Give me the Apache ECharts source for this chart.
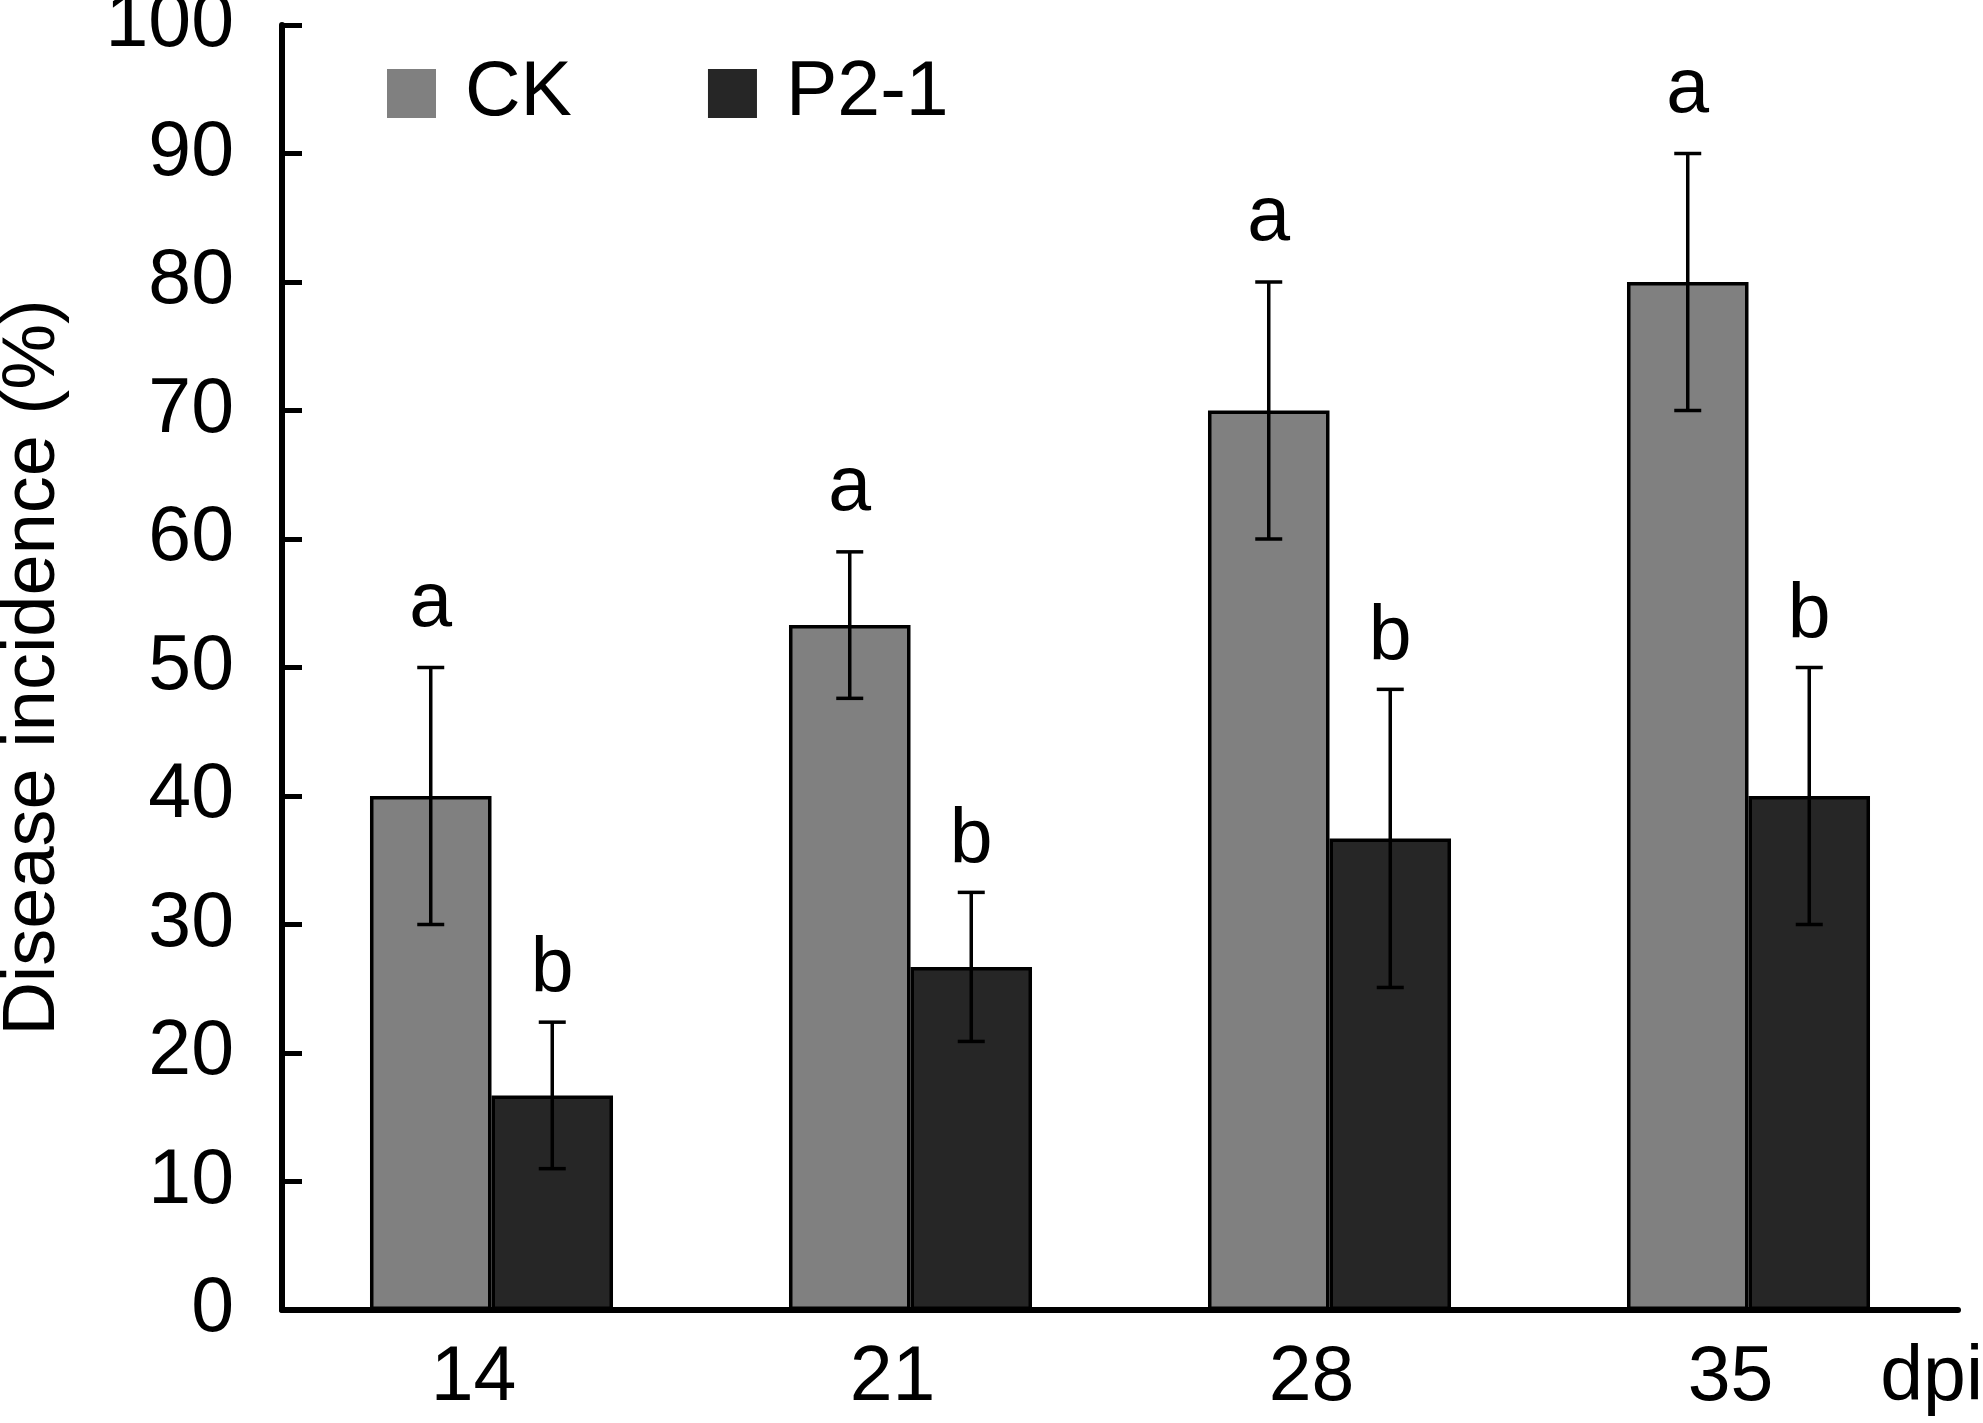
<!DOCTYPE html>
<html>
<head>
<meta charset="utf-8">
<title>Disease incidence</title>
<script src="https://cdn.jsdelivr.net/npm/echarts@6/dist/echarts.min.js"></script>
<style>
  html, body { margin: 0; padding: 0; background: #fff; }
  #chart { width: 1983px; height: 1423px; }
</style>
</head>
<body>
<div id="chart"></div>
<script>
// days post inoculation
var categories = ['14', '21', '28', '35'];
var yTicks = [0, 10, 20, 30, 40, 50, 60, 70, 80, 90, 100];

var ckMean = [40, 53.3, 70, 80];
var ckErr = [10, 5.7, 10, 10];
var ckLetters = ['a', 'a', 'a', 'a'];

var p21Mean = [16.7, 26.7, 36.7, 40];
var p21Err = [5.7, 5.8, 11.6, 10];
var p21Letters = ['b', 'b', 'b', 'b'];

var FONT = '"Liberation Sans", Arial, sans-serif';
var BIG = 77;

// error bar + significance letter over a bar; side -1 = left bar, 1 = right bar
// gap = px between the cap and the letter's baseline
function errorSeries (name, mean, err, letters, side, gap) {
    return {
        type: 'custom',
        name: name + ' err',
        z: 10,
        encode: { x: 0, y: [1, 2] },
        data: categories.map(function (c, i) {
            return [i, mean[i] - err[i], mean[i] + err[i]];
        }),
        renderItem: function (params, api) {
            var i = api.value(0);
            var catW = api.size([1, 0])[0];
            var x = api.coord([i, 0])[0] + side * catW * 0.145;
            var yLo = api.coord([i, api.value(1)])[1];
            var yHi = api.coord([i, api.value(2)])[1];
            var cap = 13.5;
            var st = { stroke: '#000', lineWidth: 3.5 };
            return {
                type: 'group',
                children: [
                    { type: 'line', shape: { x1: x, y1: yLo, x2: x, y2: yHi }, style: st },
                    { type: 'line', shape: { x1: x - cap, y1: yLo, x2: x + cap, y2: yLo }, style: st },
                    { type: 'line', shape: { x1: x - cap, y1: yHi, x2: x + cap, y2: yHi }, style: st },
                    {
                        type: 'text', x: x, y: yHi - gap - 27,
                        style: {
                            text: letters[i], fill: '#000', fontSize: BIG, fontFamily: FONT,
                            align: 'center', verticalAlign: 'middle'
                        }
                    }
                ]
            };
        }
    };
}

var chart = echarts.init(document.getElementById('chart'));
chart.setOption({
    backgroundColor: '#fff',
    animation: false,
    textStyle: { fontFamily: FONT, color: '#000' },
    grid: { left: 282, right: 25, top: 25, bottom: 113, containLabel: false, outerBoundsMode: 'none' },
    legend: {
        data: ['CK', 'P2-1'],
        left: 382, top: 50,
        icon: 'rect',
        itemWidth: 49, itemHeight: 49,
        itemGap: 136,
        itemStyle: { borderWidth: 0 },
        textStyle: { fontSize: BIG, fontFamily: FONT, color: '#000', padding: [0, 0, 0, 24] }
    },
    xAxis: {
        type: 'category',
        data: categories,
        boundaryGap: true,
        axisLine: { lineStyle: { color: '#000', width: 6 } },
        axisTick: { inside: true, length: 20, lineStyle: { color: '#000', width: 5 } },
        axisLabel: { fontSize: BIG, fontFamily: FONT, color: '#000', margin: 30, padding: [0, 36, 0, 0] },
        splitLine: { show: false }
    },
    yAxis: {
        type: 'value',
        min: yTicks[0], max: yTicks[yTicks.length - 1], interval: 10,
        name: 'Disease incidence (%)',
        nameLocation: 'middle',
        nameGap: 211,
        nameTextStyle: { fontSize: 74, fontFamily: FONT, color: '#000' },
        axisLine: { show: true, lineStyle: { color: '#000', width: 6 } },
        axisTick: { show: true, inside: true, length: 20, lineStyle: { color: '#000', width: 5 } },
        axisLabel: { fontSize: BIG, fontFamily: FONT, color: '#000', margin: 48, padding: [12, 0, 0, 0] },
        splitLine: { show: false }
    },
    graphic: [{
        type: 'text', right: 0, top: 1340,
        style: { text: 'dpi', fontSize: BIG, fontFamily: FONT, fill: '#000' }
    }],
    series: [
        {
            name: 'CK', type: 'bar', data: ckMean,
            barGap: '0%', barCategoryGap: '42%',
            itemStyle: { color: '#808080', borderColor: '#000', borderWidth: 3.5 }
        },
        {
            name: 'P2-1', type: 'bar', data: p21Mean,
            itemStyle: { color: '#262626', borderColor: '#000', borderWidth: 3.5 }
        },
        errorSeries('CK', ckMean, ckErr, ckLetters, -1, 36),
        errorSeries('P2-1', p21Mean, p21Err, p21Letters, 1, 24)
    ]
});
</script>
</body>
</html>
